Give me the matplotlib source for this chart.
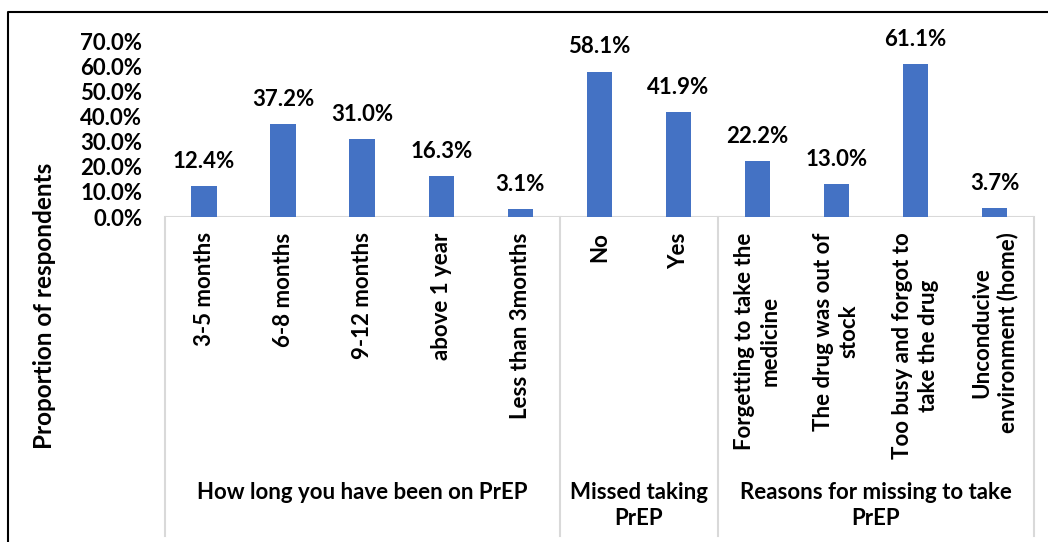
import numpy as np
import matplotlib
matplotlib.use('Agg')
import matplotlib.pyplot as plt
from matplotlib.lines import Line2D
from matplotlib.transforms import blended_transform_factory

# Data
categories = ['3-5 months', '6-8 months', '9-12 months', 'above 1 year', 'Less than 3months',
              'No', 'Yes',
              'Forgetting to take the\nmedicine', 'The drug was out of\nstock',
              'Too busy and forgot to\ntake the drug', 'Unconducive\nenvironment (home)']
values = [12.4, 37.2, 31.0, 16.3, 3.1, 58.1, 41.9, 22.2, 13.0, 61.1, 3.7]
groups = ['How long you have been on PrEP', 'Missed taking\nPrEP', 'Reasons for missing to take\nPrEP']
group_sizes = [5, 2, 4]
y_ticks = [0, 10, 20, 30, 40, 50, 60, 70]

W, H = 1048, 542
plt.rcParams['font.family'] = ['Lato', 'DejaVu Sans']
plt.rcParams['font.weight'] = 'bold'
fs = 16

fig = plt.figure(figsize=(W / 100, H / 100), dpi=100)
ax = fig.add_axes([164.5 / W, (H - 217) / H, (1034 - 164.5) / W, (217 - 41.7) / H])

x = np.arange(len(categories))
bars = ax.bar(x, values, width=0.32, color='#4472C4', zorder=2)
for xi, v in zip(x, values):
    ax.annotate(f'{v:.1f}%', (xi, v), xytext=(0, 13), textcoords='offset points',
                ha='center', va='baseline', fontsize=fs, fontweight='bold', color='black')

ax.set_xlim(-0.5, len(categories) - 0.5)
ax.set_ylim(0, 70)
ax.set_yticks(y_ticks)
ax.set_yticklabels([f'{t:.1f}%' for t in y_ticks], fontsize=fs, fontweight='bold')
ax.tick_params(axis='y', length=0, pad=16)
ax.set_xticks(x)
ax.set_xticklabels(categories, rotation=90, fontsize=fs, fontweight='bold',
                   va='top', ha='center', multialignment='center')
for lab in ax.get_xticklabels():
    lab.set_linespacing(1.25)
ax.tick_params(axis='x', length=0, pad=11)
for s in ax.spines.values():
    s.set_visible(False)

# category axis lines (multi-level)
grey = '#D9D9D9'
ax.axhline(0, color=grey, lw=1.5, zorder=1)
trans = blended_transform_factory(ax.transData, fig.transFigure)
bounds = np.concatenate([[0], np.cumsum(group_sizes)]) - 0.5
for b in bounds:
    ax.add_line(Line2D([b, b], [(H - 217) / H, (H - 536) / H], transform=trans,
                       color=grey, lw=1.5, clip_on=False))
for g, start, end in zip(groups, bounds[:-1], bounds[1:]):
    ax.text((start + end) / 2, (H - 482) / H, g, transform=trans, ha='center', va='top',
            multialignment='center', fontsize=fs, fontweight='bold', linespacing=1.3)

fig.text(45 / W, 1 - 306 / H, 'Proportion of respondents', rotation=90,
         ha='center', va='center', fontsize=17.5, fontweight='bold')

# outer chart border (left and top visible)
fig.add_artist(Line2D([8 / W, 8 / W, 1.0], [0.0, 1 - 12 / H, 1 - 12 / H],
                      transform=fig.transFigure, color='black', lw=1.5))

fig.savefig('out.png', dpi=100)
